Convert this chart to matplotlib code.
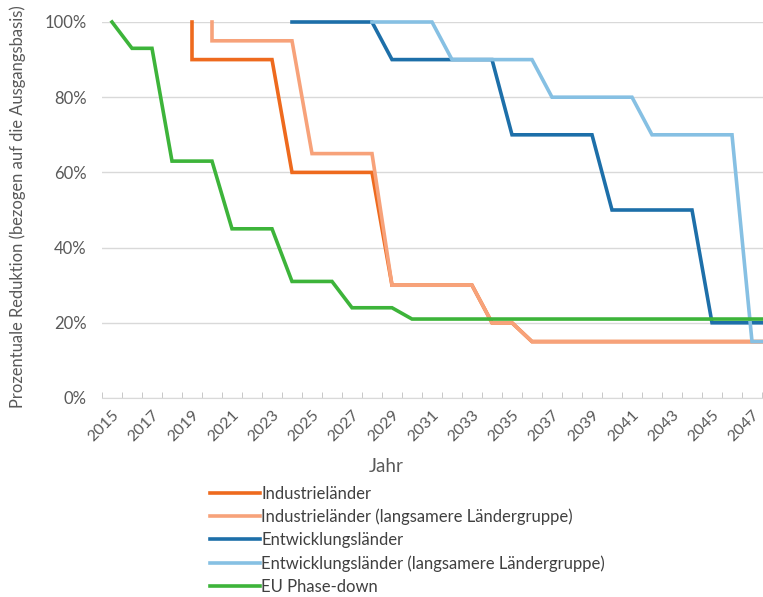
import matplotlib
matplotlib.use("Agg")
import matplotlib.pyplot as plt
from matplotlib.ticker import FixedLocator, PercentFormatter

plt.rcParams['font.family'] = ['Lato', 'DejaVu Sans']

# ---- data ----
tick_years = [2015, 2017, 2019, 2021, 2023, 2025, 2027, 2029, 2031, 2033,
              2035, 2037, 2039, 2041, 2043, 2045, 2047]

ind_x = [2019, 2019, 2020, 2021, 2022, 2023, 2024, 2025, 2026, 2027, 2028,
         2029, 2030, 2031, 2032, 2033, 2034, 2035, 2036, 2037, 2038, 2039,
         2040, 2041, 2042, 2043, 2044, 2045, 2046, 2047, 2048]
ind_y = [100, 90, 90, 90, 90, 90, 60, 60, 60, 60, 60,
         30, 30, 30, 30, 30, 20, 20, 15, 15, 15, 15,
         15, 15, 15, 15, 15, 15, 15, 15, 15]

ind_slow_x = [2020, 2020, 2021, 2022, 2023, 2024, 2025, 2026, 2027, 2028,
              2029, 2030, 2031, 2032, 2033, 2034, 2035, 2036, 2037, 2038,
              2039, 2040, 2041, 2042, 2043, 2044, 2045, 2046, 2047, 2048]
ind_slow_y = [100, 95, 95, 95, 95, 95, 65, 65, 65, 65,
              30, 30, 30, 30, 30, 20, 20, 15, 15, 15,
              15, 15, 15, 15, 15, 15, 15, 15, 15, 15]

ent_x = [2024, 2025, 2026, 2027, 2028, 2029, 2030, 2031, 2032, 2033, 2034,
         2035, 2036, 2037, 2038, 2039, 2040, 2041, 2042, 2043, 2044,
         2045, 2046, 2047, 2048]
ent_y = [100, 100, 100, 100, 100, 90, 90, 90, 90, 90, 90,
         70, 70, 70, 70, 70, 50, 50, 50, 50, 50,
         20, 20, 20, 20]

ent_slow_x = [2028, 2029, 2030, 2031, 2032, 2033, 2034, 2035, 2036, 2037,
              2038, 2039, 2040, 2041, 2042, 2043, 2044, 2045, 2046, 2047, 2048]
ent_slow_y = [100, 100, 100, 100, 90, 90, 90, 90, 90, 80,
              80, 80, 80, 80, 70, 70, 70, 70, 70, 15, 15]

eu_x = [2015, 2016, 2017, 2018, 2019, 2020, 2021, 2022, 2023, 2024, 2025,
        2026, 2027, 2028, 2029, 2030, 2031, 2032, 2033, 2034, 2035, 2036,
        2037, 2038, 2039, 2040, 2041, 2042, 2043, 2044, 2045, 2046, 2047, 2048]
eu_y = [100, 93, 93, 63, 63, 63, 45, 45, 45, 31, 31,
        31, 24, 24, 24, 21, 21, 21, 21, 21, 21, 21,
        21, 21, 21, 21, 21, 21, 21, 21, 21, 21, 21, 21]

labels = ["Industrieländer",
          "Industrieländer (langsamere Ländergruppe)",
          "Entwicklungsländer",
          "Entwicklungsländer (langsamere Ländergruppe)",
          "EU Phase-down"]
colors = ["#EE6A1E", "#F7A27A", "#1D6FA9", "#86C0E3", "#3DB43A"]

# ---- figure ----
W, H = 763, 597
fig = plt.figure(figsize=(W / 100, H / 100), dpi=100)
left_px, right_px, top_px, bot_px = 102, 782, 22, 398
ax = fig.add_axes([left_px / W, 1 - bot_px / H,
                   (right_px - left_px) / W, (bot_px - top_px) / H])

series = [(ind_x, ind_y), (ind_slow_x, ind_slow_y), (ent_x, ent_y),
          (ent_slow_x, ent_slow_y), (eu_x, eu_y)]
handles = []
for (xs, ys), lab, col in zip(series, labels, colors):
    h, = ax.plot(xs, ys, color=col, lw=2.6, label=lab, solid_joinstyle='miter',
                 clip_on=False)
    handles.append(h)

ax.set_xlim(2014.5, 2048.5)
ax.set_ylim(0, 100)
ax.yaxis.set_major_locator(FixedLocator([0, 20, 40, 60, 80, 100]))
ax.yaxis.set_major_formatter(PercentFormatter(100, decimals=0))
ax.grid(axis='y', color='#d9d9d9', lw=1)
ax.set_axisbelow(True)
for s in ['top', 'right', 'left']:
    ax.spines[s].set_visible(False)
ax.spines['bottom'].set_color('#d9d9d9')
ax.tick_params(axis='y', length=0, labelsize=12, labelcolor='#595959', pad=11)

ax.set_xticks(tick_years)
ax.set_xticklabels([str(y) for y in tick_years], rotation=45, ha='right',
                   va='top', rotation_mode='anchor', fontsize=11.5, color='#595959')
ax.tick_params(axis='x', which='major', length=0, pad=7)
ax.set_xticks([y + 0.5 for y in range(2014, 2049)], minor=True)
ax.tick_params(axis='x', which='minor', length=4, direction='in', color='#bfbfbf')

fig.text(386 / W, 1 - 466 / H, "Jahr", ha='center', va='center',
         fontsize=13.5, color='#595959')
fig.text(18 / W, 1 - 207 / H, "Prozentuale Reduktion (bezogen auf die Ausgangsbasis)",
         rotation=90, ha='center', va='center', fontsize=11.9, color='#595959')

fig.legend(handles=handles, labels=labels, loc='upper left',
           bbox_to_anchor=(203 / W, 1 - 479 / H), frameon=False,
           fontsize=12, handlelength=3.0, handletextpad=0.1,
           labelspacing=0.42, labelcolor='#404040', borderaxespad=0)

fig.savefig("out.png", dpi=100)
